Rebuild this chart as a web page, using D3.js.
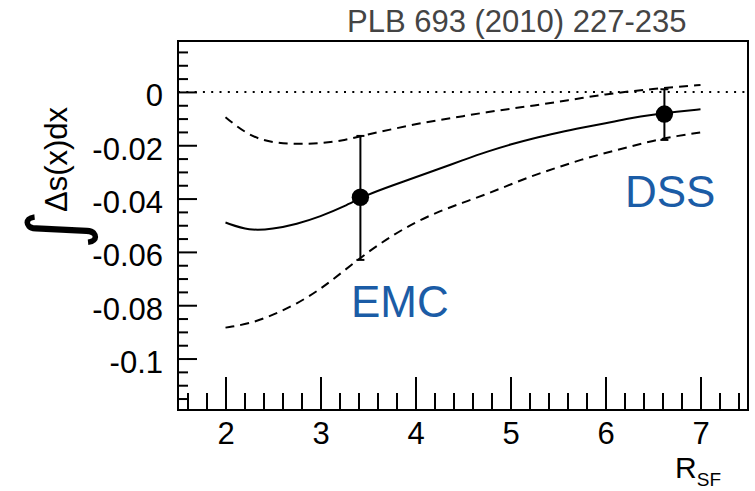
<!DOCTYPE html>
<html>
<head>
<meta charset="utf-8">
<script src="https://d3js.org/d3.v7.min.js"></script>
<style>
  body { margin: 0; background: #fff; }
  svg { display: block; }
</style>
</head>
<body>
<svg width="755" height="491"></svg>
<script>
// values
const rsf = [2.0, 2.25, 2.5, 2.75, 3.0, 3.25, 3.5, 3.75, 4.0, 4.25, 4.5, 4.75, 5.0, 5.25, 5.5, 5.75, 6.0, 6.25, 6.5, 6.75, 7.0];
const central = [-0.0490, -0.0521, -0.0514, -0.0496, -0.0467, -0.0430, -0.0384, -0.0352, -0.0320, -0.0288, -0.0256, -0.0224, -0.0197, -0.0173, -0.0153, -0.0134, -0.0118, -0.0099, -0.0085, -0.0074, -0.0065];
const upper = [-0.0095, -0.0166, -0.0191, -0.0196, -0.0193, -0.0182, -0.0159, -0.0140, -0.0121, -0.0105, -0.0091, -0.0076, -0.0063, -0.0051, -0.0037, -0.0023, -0.0009, 0.0002, 0.0011, 0.0019, 0.0026];
const lower = [-0.0884, -0.0870, -0.0837, -0.0795, -0.0740, -0.0670, -0.0600, -0.0540, -0.0488, -0.0448, -0.0415, -0.0383, -0.0347, -0.0312, -0.0283, -0.0253, -0.0229, -0.0206, -0.0183, -0.0165, -0.0152];

const fitNames = ["EMC", "DSS"];
const fitX = [3.42, 6.62];
const fitY = [-0.0395, -0.0083];
const fitHi = [-0.0165, 0.0010];
const fitLo = [-0.0630, -0.0180];
const labelX = [3.32, 6.205];
const labelY = [-0.0843, -0.043];

const xMajor = [2, 3, 4, 5, 6, 7];
const yMajor = [0, -0.02, -0.04, -0.06, -0.08, -0.1];

const width = 755, height = 491;
const margin = {top: 41, right: 7, bottom: 81, left: 178};

const svg = d3.select("svg");

const x = d3.scaleLinear().domain([1.5, 7.5]).range([margin.left, width - margin.right]);
const y = d3.scaleLinear().domain([-0.1193, 0.0191]).range([height - margin.bottom, margin.top]);

const font = "'Liberation Sans', Arial, Helvetica, sans-serif";

// minor ticks
const xMinor = d3.range(1.6, 7.45, 0.2).filter(v => !xMajor.some(m => Math.abs(m - v) < 1e-6));
const yMinor = d3.range(-0.115, 0.0175, 0.005).filter(v => !yMajor.some(m => Math.abs(m - v) < 1e-6));

svg.append("g")
    .attr("transform", `translate(0,${y.range()[0]})`)
    .call(d3.axisBottom(x).tickValues(xMinor).tickSizeInner(-17).tickSizeOuter(0).tickFormat(""))
    .call(g => g.select(".domain").remove())
    .call(g => g.selectAll("line").attr("stroke-width", 2));

svg.append("g")
    .attr("transform", `translate(0,${y.range()[0]})`)
    .call(d3.axisBottom(x).tickValues(xMajor).tickSizeInner(-33).tickSizeOuter(0).tickPadding(12).tickFormat(d3.format("d")))
    .call(g => g.select(".domain").remove())
    .call(g => g.selectAll("line").attr("stroke-width", 2))
    .call(g => g.selectAll("text").attr("font-size", 31).attr("font-family", font).attr("fill", "#000"));

svg.append("g")
    .attr("transform", `translate(${margin.left},0)`)
    .call(d3.axisLeft(y).tickValues(yMinor).tickSizeInner(-10).tickSizeOuter(0).tickFormat(""))
    .call(g => g.select(".domain").remove())
    .call(g => g.selectAll("line").attr("stroke-width", 2));

svg.append("g")
    .attr("transform", `translate(${margin.left},0)`)
    .call(d3.axisLeft(y).tickValues(yMajor).tickSizeInner(-19).tickSizeOuter(0).tickPadding(15).tickFormat(d => String(d)))
    .call(g => g.select(".domain").remove())
    .call(g => g.selectAll("line").attr("stroke-width", 2))
    .call(g => g.selectAll("text").attr("font-size", 31).attr("font-family", font).attr("fill", "#000").attr("dy", "0.45em"));

// frame
svg.append("rect")
    .attr("x", x.range()[0]).attr("y", y.range()[1])
    .attr("width", x.range()[1] - x.range()[0])
    .attr("height", y.range()[0] - y.range()[1])
    .attr("fill", "none").attr("stroke", "#000").attr("stroke-width", 2);

// zero line
svg.append("line")
    .attr("x1", x.range()[0]).attr("x2", x.range()[1])
    .attr("y1", y(0)).attr("y2", y(0))
    .attr("stroke", "#000").attr("stroke-width", 2)
    .attr("stroke-dasharray", "2,6.3");

const line = d3.line()
    .x((d, i) => x(rsf[i]))
    .y(d => y(d))
    .curve(d3.curveBasis);

svg.append("path").attr("d", line(upper))
    .attr("fill", "none").attr("stroke", "#000").attr("stroke-width", 2).attr("stroke-dasharray", "9,6");
svg.append("path").attr("d", line(lower))
    .attr("fill", "none").attr("stroke", "#000").attr("stroke-width", 2).attr("stroke-dasharray", "9,6");
svg.append("path").attr("d", line(central))
    .attr("fill", "none").attr("stroke", "#000").attr("stroke-width", 2);

// fit points with errors
const pts = svg.append("g").selectAll("g")
    .data(fitNames)
    .join("g");
pts.append("line")
    .attr("x1", (d, i) => x(fitX[i])).attr("x2", (d, i) => x(fitX[i]))
    .attr("y1", (d, i) => y(fitHi[i])).attr("y2", (d, i) => y(fitLo[i]))
    .attr("stroke", "#000").attr("stroke-width", 2);
pts.each(function(d, i) {
  const g = d3.select(this);
  [fitHi[i], fitLo[i]].forEach(v => {
    g.append("line")
        .attr("x1", x(fitX[i]) - 4).attr("x2", x(fitX[i]) + 4)
        .attr("y1", y(v)).attr("y2", y(v))
        .attr("stroke", "#000").attr("stroke-width", 2);
  });
});
pts.append("circle")
    .attr("cx", (d, i) => x(fitX[i])).attr("cy", (d, i) => y(fitY[i]))
    .attr("r", 8.7).attr("fill", "#000");

svg.append("g").selectAll("text")
    .data(fitNames)
    .join("text")
    .attr("x", (d, i) => x(labelX[i]))
    .attr("y", (d, i) => y(labelY[i]))
    .attr("font-family", font).attr("font-size", 44)
    .attr("fill", "#1b5ca6")
    .text(d => d);

// title
svg.append("text")
    .attr("x", 347).attr("y", 32)
    .attr("font-family", font).attr("font-size", 31)
    .attr("fill", "#444")
    .text("PLB 693 (2010) 227-235");

// x axis label
const xl = svg.append("text")
    .attr("x", 721).attr("y", 478)
    .attr("text-anchor", "end")
    .attr("font-family", font).attr("font-size", 30);
xl.append("tspan").text("R");
xl.append("tspan").attr("font-size", 19).attr("dy", 8).text("SF");

// y axis label
const yl = svg.append("g").attr("transform", "translate(67,212) rotate(-90)");
yl.append("text")
    .attr("x", 2).attr("y", -6)
    .attr("text-anchor", "end")
    .attr("font-family", "'DejaVu Sans', sans-serif")
    .attr("font-size", 76)
    .attr("dominant-baseline", "middle")
    .text("∫");
yl.append("text")
    .attr("x", 0).attr("y", 0)
    .attr("font-family", font).attr("font-size", 31)
    .text("Δs(x)dx");
</script>
</body>
</html>
